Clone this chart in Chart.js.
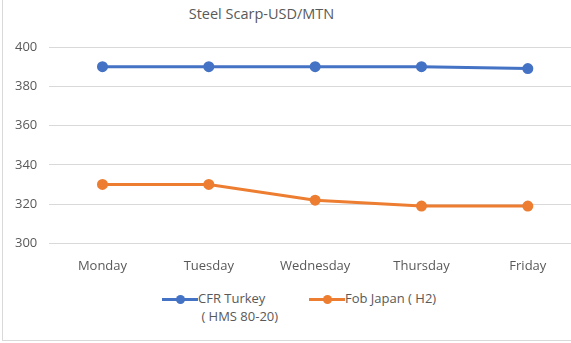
<!DOCTYPE html>
<html>
<head>
<meta charset="utf-8">
<script src="https://cdn.jsdelivr.net/npm/chart.js@4"></script>
<style>
  html, body { margin: 0; padding: 0; background: #fff; }
  body { width: 571px; height: 343px; overflow: hidden; position: relative; font-family: "Open Sans", sans-serif; color: #595959; }
  #frame { position: absolute; left: 2px; top: -2px; width: 600px; height: 343px; border: 1px solid #d9d9d9; box-sizing: border-box; }
  #title { position: absolute; left: 0; width: 523px; top: 4px; text-align: center; font-size: 14.5px; color: #595959; }
  #wrap { position: absolute; left: 0; top: 0; width: 590px; height: 289px; }
  #legend { position: absolute; top: 289px; left: 0; width: 571px; font-size: 13px; }
  .item { position: absolute; display: flex; align-items: flex-start; }
  .swatch { width: 36px; height: 20px; position: relative; }
  .swatch i { position: absolute; left: 0; right: 0; top: 9px; height: 3px; }
  .swatch b { position: absolute; left: 14px; top: 6px; width: 9px; height: 9px; border-radius: 50%; }
  .label { line-height: 18px; white-space: pre; }
</style>
</head>
<body>
<div id="frame"></div>
<div id="title">Steel Scarp-USD/MTN</div>
<div id="wrap"><canvas id="chart"></canvas></div>
<div id="legend"></div>
<script>
// weekly steel scrap quotes, USD per metric tonne
const days = ['Monday', 'Tuesday', 'Wednesday', 'Thursday', 'Friday'];
const cfrTurkey = [390, 390, 390, 390, 389];
const fobJapan = [330, 330, 322, 319, 319];
const seriesNames = [['CFR Turkey', ' ( HMS 80-20)'], ['Fob Japan ( H2)']];
const seriesColors = ['#4472C4', '#ED7D31'];
const yTicks = [300, 320, 340, 360, 380, 400];

function makeSeries(name, values, color) {
    return {
        label: name.join(' '),
        data: values,
        borderColor: color,
        backgroundColor: color,
        borderWidth: 3,
        pointRadius: 4,
        pointHoverRadius: 4,
        tension: 0
    };
}

const chart = new Chart(document.getElementById('chart'), {
    type: 'line',
    data: {
        labels: days,
        datasets: [
            makeSeries(seriesNames[0], cfrTurkey, seriesColors[0]),
            makeSeries(seriesNames[1], fobJapan, seriesColors[1])
        ]
    },
    options: {
        responsive: true,
        maintainAspectRatio: false,
        animation: false,
        layout: { padding: { left: 3, right: 9, top: 47, bottom: 0 } },
        plugins: {
            legend: { display: false },
            tooltip: { enabled: false }
        },
        scales: {
            x: {
                offset: true,
                grid: { display: false, drawTicks: false },
                border: { display: true, color: '#d9d9d9' },
                ticks: { color: '#595959', font: { family: 'Open Sans', size: 13 }, padding: 15 }
            },
            y: {
                min: yTicks[0],
                max: yTicks[yTicks.length - 1],
                afterBuildTicks: axis => { axis.ticks = yTicks.map(v => ({ value: v })); },
                grid: { color: '#d9d9d9', drawTicks: false },
                border: { display: false },
                ticks: { color: '#595959', font: { family: 'Open Sans', size: 13 }, padding: 12 }
            }
        }
    }
});

// legend below the plot: line with marker, then the series name
const legend = document.getElementById('legend');
const legendX = [162, 309];
seriesNames.forEach((name, i) => {
    const item = document.createElement('div');
    item.className = 'item';
    item.style.left = legendX[i] + 'px';
    item.innerHTML = '<div class="swatch"><i style="background:' + seriesColors[i] + '"></i><b style="background:' + seriesColors[i] + '"></b></div>' +
        '<div class="label"></div>';
    item.querySelector('.label').textContent = name.join('\n');
    legend.appendChild(item);
});
</script>
</body>
</html>
